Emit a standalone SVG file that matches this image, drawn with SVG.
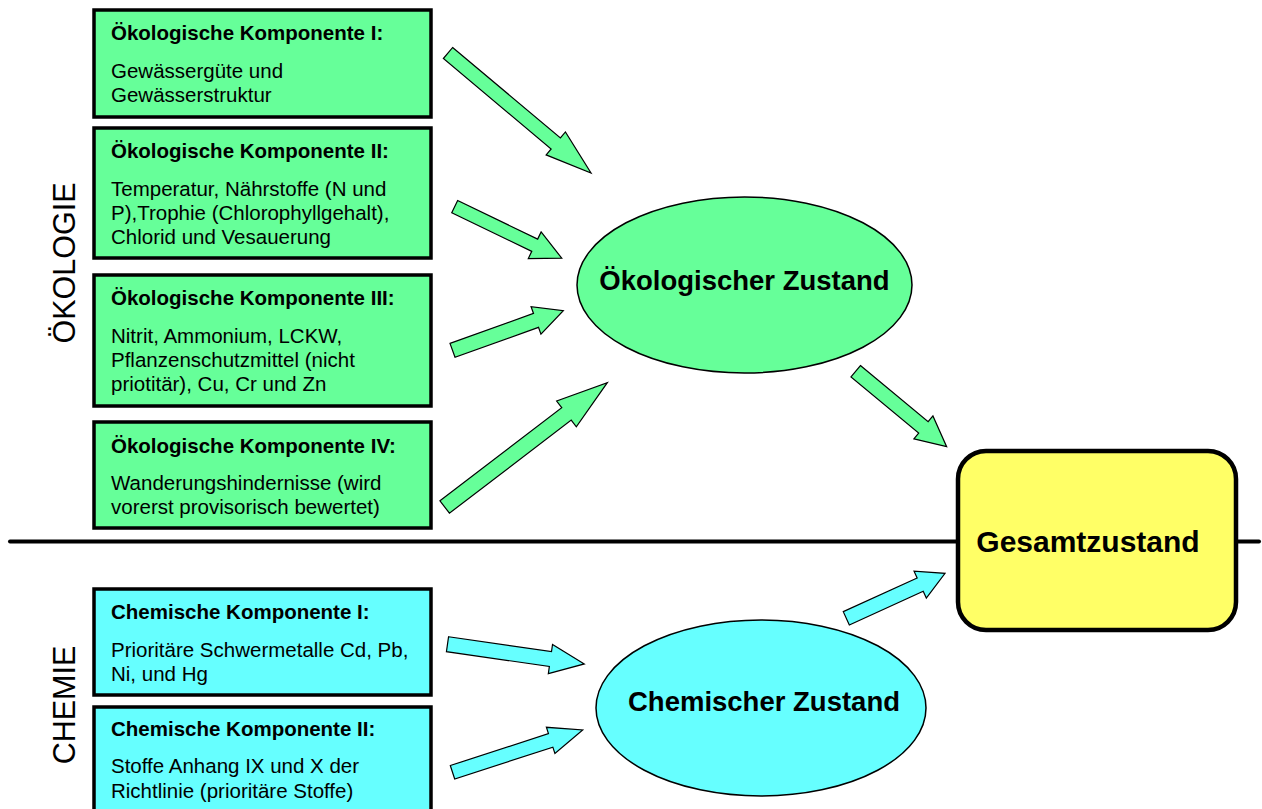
<svg xmlns="http://www.w3.org/2000/svg" width="1262" height="809" viewBox="0 0 1262 809">
<style>
  .box { stroke: #000; stroke-width: 3.5; }
  .eco { fill: #66FF99; }
  .chem { fill: #66FFFF; }
  .t { font-family: "Liberation Sans", Arial, sans-serif; font-size: 20.5px; fill: #000; }
  .b { font-weight: bold; }
  .big { font-family: "Liberation Sans", Arial, sans-serif; font-weight: bold; font-size: 27.5px; fill: #000; text-anchor: middle; }
  .side { font-family: "Liberation Sans", Arial, sans-serif; font-size: 30.5px; fill: #000; text-anchor: middle; }
  .arrow { stroke: #000; stroke-width: 1.2; stroke-linejoin: miter; }
  .ell { stroke: #000; stroke-width: 1.5; }
</style>
<rect width="1262" height="809" fill="#fff"/>

<text class="side" transform="translate(75,263) rotate(-90)">ÖKOLOGIE</text>
<text class="side" transform="translate(75,705) rotate(-90)">CHEMIE</text>

<line x1="10" y1="541.5" x2="1259" y2="541.5" stroke="#000" stroke-width="4" stroke-linecap="round"/>

<g id="oeko1">
  <rect class="box eco" x="94" y="10" width="337" height="107"/>
  <text class="t b" x="111" y="40">Ökologische Komponente I:</text>
  <text class="t" x="111" y="78">Gewässergüte und</text>
  <text class="t" x="111" y="102">Gewässerstruktur</text>
</g>
<g id="oeko2">
  <rect class="box eco" x="94" y="128" width="337" height="130"/>
  <text class="t b" x="111" y="158">Ökologische Komponente II:</text>
  <text class="t" x="111" y="196">Temperatur, Nährstoffe (N und</text>
  <text class="t" x="111" y="220">P),Trophie (Chlorophyllgehalt),</text>
  <text class="t" x="111" y="244">Chlorid und Vesauerung</text>
</g>
<g id="oeko3">
  <rect class="box eco" x="94" y="275" width="337" height="131"/>
  <text class="t b" x="111" y="305">Ökologische Komponente III:</text>
  <text class="t" x="111" y="343">Nitrit, Ammonium, LCKW,</text>
  <text class="t" x="111" y="367">Pflanzenschutzmittel (nicht</text>
  <text class="t" x="111" y="391">priotitär), Cu, Cr und Zn</text>
</g>
<g id="oeko4">
  <rect class="box eco" x="94" y="422" width="337" height="106"/>
  <text class="t b" x="111" y="453">Ökologische Komponente IV:</text>
  <text class="t" x="111" y="490">Wanderungshindernisse (wird</text>
  <text class="t" x="111" y="514">vorerst provisorisch bewertet)</text>
</g>
<g id="chem1">
  <rect class="box chem" x="94" y="589" width="337" height="106"/>
  <text class="t b" x="111" y="619">Chemische Komponente I:</text>
  <text class="t" x="111" y="657">Prioritäre Schwermetalle Cd, Pb,</text>
  <text class="t" x="111" y="681">Ni, und Hg</text>
</g>
<g id="chem2">
  <rect class="box chem" x="94" y="707" width="337" height="115"/>
  <text class="t b" x="111" y="736">Chemische Komponente II:</text>
  <text class="t" x="111" y="773">Stoffe Anhang IX und X der</text>
  <text class="t" x="111" y="798">Richtlinie (prioritäre Stoffe)</text>
</g>

<g id="oekoZustand">
  <ellipse class="ell eco" cx="744.5" cy="285" rx="167.5" ry="88"/>
  <text class="big" x="744.5" y="290">Ökologischer Zustand</text>
</g>
<g id="chemZustand">
  <ellipse class="ell chem" cx="761" cy="708" rx="165" ry="88"/>
  <text class="big" x="764" y="711">Chemischer Zustand</text>
</g>
<g id="gesamt">
  <rect x="958" y="451" width="278" height="179" rx="28" fill="#FFFF66" stroke="#000" stroke-width="4.5"/>
  <text class="big" x="1088" y="552" style="font-size:30px">Gesamtzustand</text>
</g>

<g id="connectors">
  <!-- polygon local: tail at 0, tip at L; w shaft half, h head half, H head length -->
  <polygon class="arrow eco" transform="translate(448,53) rotate(40)" points="0,-7.2 140.7,-7.2 140.7,-15 186.7,0 140.7,15 140.7,7.2 0,7.2"/>
  <polygon class="arrow eco" transform="translate(454.7,206.7) rotate(25.7)" points="0,-6.8 88.8,-6.8 88.8,-14.8 118.8,0 88.8,14.8 88.8,6.8 0,6.8"/>
  <polygon class="arrow eco" transform="translate(452.5,350.3) rotate(-19.7)" points="0,-7.4 88.7,-7.4 88.7,-14.6 117.7,0 88.7,14.6 88.7,7.4 0,7.4"/>
  <polygon class="arrow eco" transform="translate(444.7,507) rotate(-37.4)" points="0,-7.8 153.3,-7.8 153.3,-16.2 204.7,0 153.3,16.2 153.3,7.8 0,7.8"/>
  <polygon class="arrow eco" transform="translate(855.7,371.2) rotate(39.7)" points="0,-7.4 88,-7.4 88,-14.9 118.2,0 88,14.9 88,7.4 0,7.4"/>
  <polygon class="arrow chem" transform="translate(846.3,618.3) rotate(-24.5)" points="0,-7.3 81.2,-7.3 81.2,-14.8 108.5,0 81.2,14.8 81.2,7.3 0,7.3"/>
  <polygon class="arrow chem" transform="translate(447.5,644.2) rotate(8.2)" points="0,-7.5 104,-7.5 104,-14.7 138.2,0 104,14.7 104,7.5 0,7.5"/>
  <polygon class="arrow chem" transform="translate(452.5,772.3) rotate(-18)" points="0,-7.1 103.2,-7.1 103.2,-13.8 136.9,0 103.2,13.8 103.2,7.1 0,7.1"/>
</g>
</svg>
